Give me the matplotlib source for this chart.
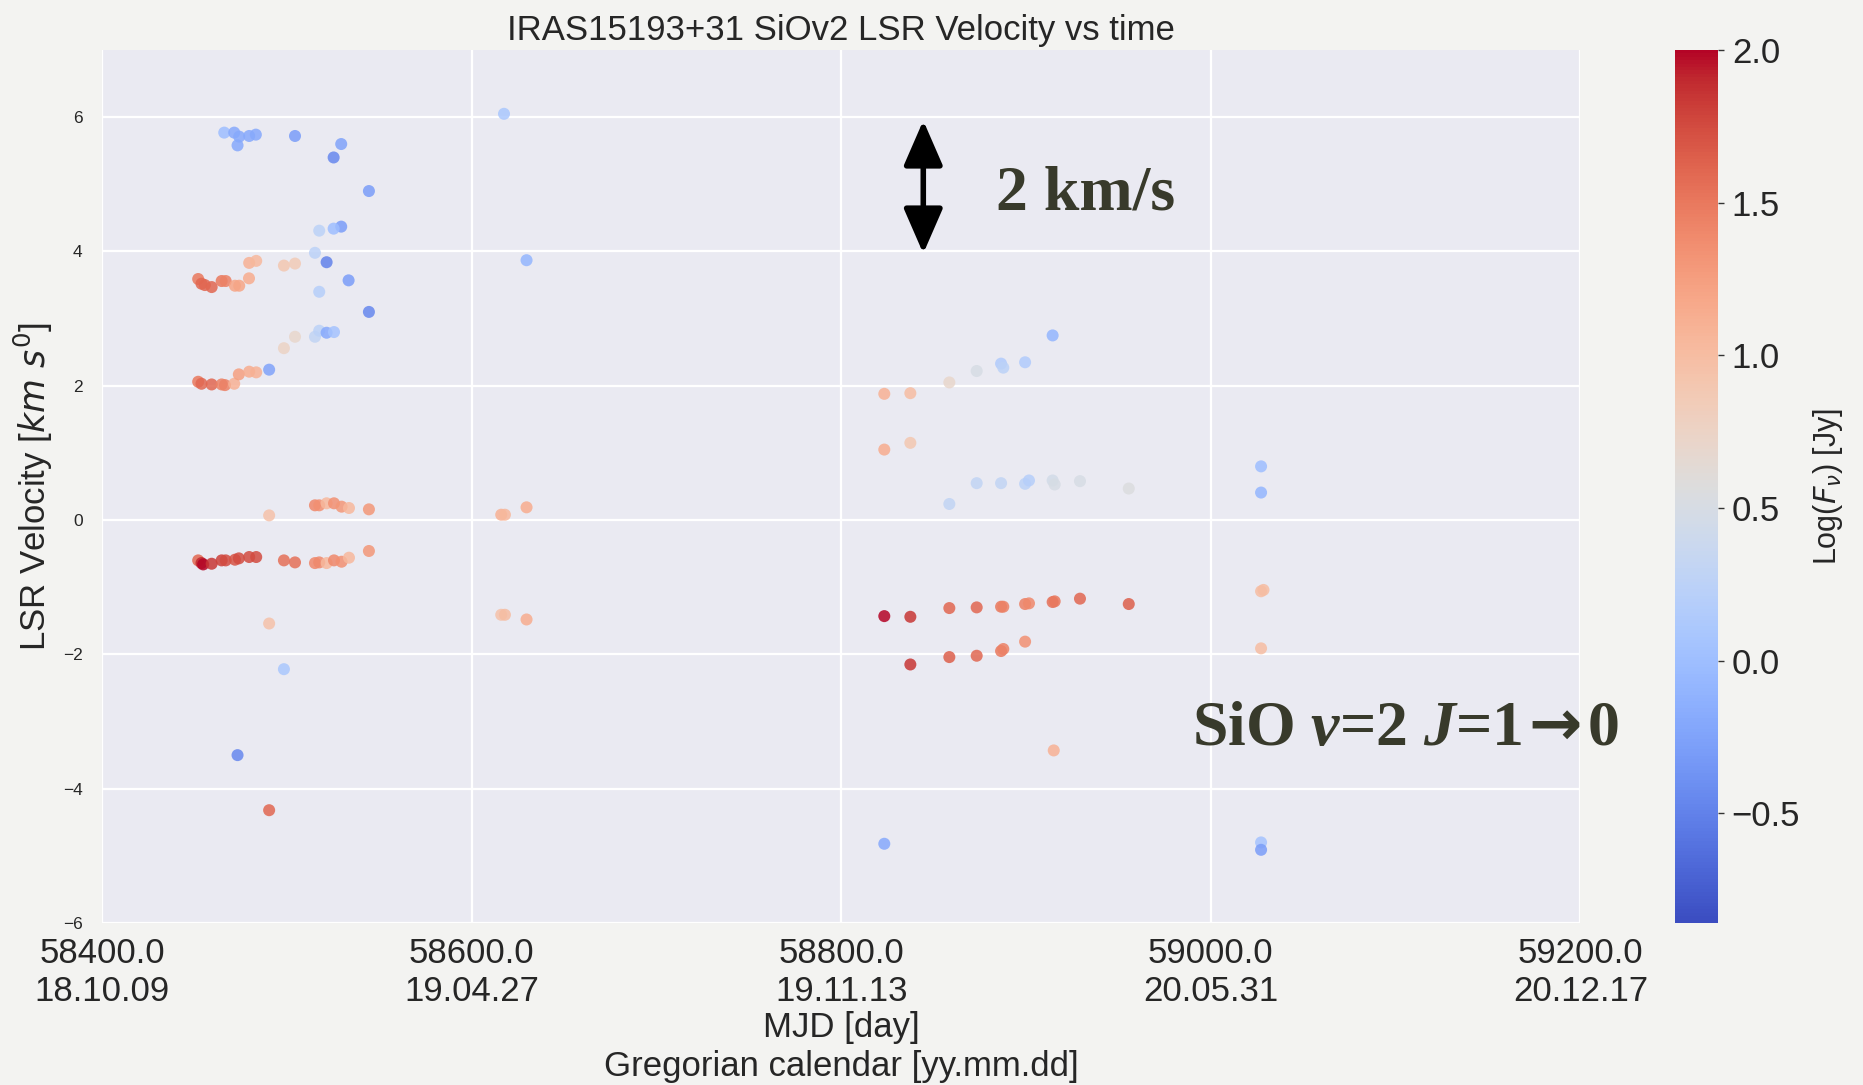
import matplotlib
matplotlib.use("Agg")
import matplotlib.pyplot as plt

# SiO v=2 J=1-0 maser spots of IRAS15193+31
# MJD of each spot, its LSR velocity (km/s) and log10 of flux density (Jy)
mjd = [
    # 2018 autumn run, upper spots
    58466.1, 58471.5, 58474.2, 58473.3, 58479.6, 58483.2, 58504.4, 58529.4, 58525.3,
    58544.4, 58529.4, 58525.3, 58517.5,
    58515.2, 58521.5, 58533.4, 58517.5, 58544.4,
    58479.6, 58483.4, 58498.4, 58504.4,
    58452.0, 58453.8, 58455.6, 58459.3, 58464.7, 58466.9, 58471.9, 58474.2, 58479.5,
    # v ~ 2
    58515.2, 58517.5, 58521.5, 58525.5, 58504.4, 58498.4, 58490.4,
    58452.0, 58453.8, 58459.3, 58464.7, 58466.5, 58471.5, 58474.0, 58479.6, 58483.4,
    # v ~ 0
    58515.2, 58517.5, 58521.5, 58525.5, 58529.6, 58533.6, 58544.4, 58490.4,
    # v ~ -0.6
    58452.0, 58453.8, 58454.7, 58459.3, 58464.7, 58466.9, 58471.9, 58474.0, 58479.6, 58483.4,
    58498.4, 58504.4,
    58515.2, 58517.5, 58521.5, 58525.5, 58529.6, 58533.6, 58544.4,
    58490.4, 58498.4, 58473.3, 58490.4,
    # 2019 spring
    58617.5, 58629.7, 58616.0, 58618.0, 58629.7, 58616.0, 58618.0, 58629.7,
    # 2019-2020 winter
    58914.4, 58899.5, 58886.5, 58887.7, 58873.3, 58858.5, 58823.3, 58837.4,
    58823.3, 58837.4,
    58873.3, 58886.5, 58899.5, 58901.6, 58914.4, 58915.5, 58929.2, 58955.6, 58858.5,
    58823.3, 58837.4, 58858.5, 58873.3, 58886.5, 58887.7, 58899.5, 58901.6, 58914.4,
    58915.5, 58929.2, 58955.6,
    58837.4, 58858.5, 58873.3, 58886.5, 58887.7, 58899.5,
    58915.0, 58823.3,
    # 2020 summer
    59027.2, 59027.2, 59027.2, 59028.5, 59027.2, 59027.2, 59027.2,
]

vlsr = [
    5.77, 5.77, 5.71, 5.58, 5.72, 5.74, 5.72, 5.60, 5.40,
    4.90, 4.37, 4.34, 4.31,
    3.98, 3.84, 3.57, 3.40, 3.10,
    3.83, 3.86, 3.79, 3.82,
    3.59, 3.52, 3.50, 3.47, 3.56, 3.56, 3.49, 3.49, 3.60,
    2.73, 2.82, 2.79, 2.80, 2.73, 2.56, 2.24,
    2.06, 2.03, 2.02, 2.02, 2.01, 2.03, 2.17, 2.21, 2.20,
    0.22, 0.22, 0.25, 0.25, 0.20, 0.18, 0.16, 0.07,
    -0.60, -0.64, -0.66, -0.65, -0.60, -0.60, -0.59, -0.57, -0.55, -0.55,
    -0.60, -0.63,
    -0.64, -0.63, -0.64, -0.60, -0.62, -0.56, -0.46,
    -1.54, -2.22, -3.50, -4.32,
    6.05, 3.87, 0.08, 0.08, 0.19, -1.41, -1.41, -1.48,
    2.75, 2.35, 2.33, 2.27, 2.22, 2.05, 1.88, 1.89,
    1.05, 1.15,
    0.55, 0.55, 0.54, 0.59, 0.59, 0.53, 0.58, 0.47, 0.24,
    -1.43, -1.44, -1.31, -1.30, -1.29, -1.29, -1.25, -1.24, -1.22,
    -1.21, -1.17, -1.25,
    -2.15, -2.04, -2.02, -1.95, -1.92, -1.81,
    -3.43, -4.82,
    0.80, 0.41, -1.06, -1.04, -1.91, -4.80, -4.91,
]

logflux = [
    0.0, -0.2, -0.2, -0.2, -0.2, -0.2, -0.3, -0.25, -0.45,
    -0.3, -0.3, 0.0, 0.25,
    0.25, -0.5, -0.3, 0.2, -0.45,
    1.1, 1.05, 0.9, 0.85,
    1.5, 1.6, 1.6, 1.6, 1.5, 1.45, 1.2, 1.2, 1.15,
    0.3, 0.25, -0.2, 0.05, 0.7, 0.75, -0.25,
    1.5, 1.6, 1.6, 1.45, 1.45, 1.1, 1.25, 1.15, 1.1,
    1.4, 1.35, 1.05, 1.35, 1.3, 1.05, 1.3, 0.95,
    1.6, 1.9, 2.0, 1.85, 1.8, 1.75, 1.7, 1.75, 1.75, 1.75,
    1.55, 1.55,
    1.4, 1.4, 1.05, 1.4, 1.35, 1.05, 1.3,
    0.95, 0.1, -0.45, 1.6,
    0.1, -0.1, 1.1, 1.05, 1.15, 0.95, 1.0, 1.15,
    -0.1, 0.15, 0.15, 0.25, 0.5, 0.7, 1.1, 1.0,
    1.15, 0.9,
    0.3, 0.3, 0.25, 0.2, 0.45, 0.5, 0.5, 0.55, 0.3,
    2.0, 1.85, 1.6, 1.6, 1.5, 1.45, 1.45, 1.4, 1.55,
    1.5, 1.6, 1.65,
    1.85, 1.65, 1.6, 1.5, 1.45, 1.35,
    1.1, -0.2,
    0.0, -0.1, 1.0, 1.0, 1.0, 0.05, -0.3,
]

xticks = [58400, 58600, 58800, 59000, 59200]
xticklabels = ["58400.0\n18.10.09", "58600.0\n19.04.27", "58800.0\n19.11.13",
               "59000.0\n20.05.31", "59200.0\n20.12.17"]
yticks = [-6, -4, -2, 0, 2, 4, 6]

plt.style.use("seaborn-v0_8-darkgrid")
plt.rcParams["font.family"] = ["Liberation Sans", "DejaVu Sans"]
plt.rcParams["mathtext.rm"] = "Liberation Serif:bold"
plt.rcParams["mathtext.it"] = "Liberation Serif:italic:bold"
plt.rcParams["mathtext.bf"] = "DejaVu Sans:bold"

fig = plt.figure(figsize=(18.63, 10.85), dpi=100)
fig.patch.set_facecolor("#f3f3f1")
ax = fig.add_axes([0.0548, 0.1493, 0.7935, 0.8046])
cax = fig.add_axes([0.899, 0.1493, 0.0231, 0.8046])

sc = ax.scatter(mjd, vlsr, c=logflux, cmap="coolwarm", vmin=-0.86, vmax=2.0,
                s=75, alpha=0.85, edgecolors="none", zorder=3)

ax.set_xlim(58400, 59200)
ax.set_ylim(-6, 7)
ax.set_xticks(xticks)
ax.set_xticklabels(xticklabels, fontsize=25)
ax.set_yticks(yticks)
ax.tick_params(axis="y", labelsize=12.5, pad=14)
ax.tick_params(axis="x", pad=10)
ax.grid(color="white", linewidth=1.6)

ax.set_title("IRAS15193+31 SiOv2 LSR Velocity vs time", fontsize=25, pad=7)
ax.set_xlabel("MJD [day]\nGregorian calendar [yy.mm.dd]", fontsize=25, labelpad=2,
              linespacing=1.25)
ax.set_ylabel(r"LSR Velocity [$km\ s^0$]", fontsize=25, labelpad=6)

# 2 km/s scale bar
ax.annotate("", xy=(58844.4, 5.95), xytext=(58844.4, 3.97),
            arrowprops=dict(arrowstyle="<|-|>,head_length=1.15,head_width=0.5",
                            color="black", lw=4, shrinkA=0, shrinkB=0,
                            mutation_scale=24), zorder=5)
ax.text(58884, 4.63, "2 km/s", fontsize=46, fontweight="bold",
        family=["Liberation Serif", "DejaVu Serif"], color="#383a2b", va="baseline")
ax.text(58990, -3.35,
        r"SiO $v$=2 $J$=1$\hspace{-0.1}\mathbf{\rightarrow}\hspace{-0.1}$0",
        fontsize=46, fontweight="bold", family=["Liberation Serif", "DejaVu Serif"],
        math_fontfamily="custom", color="#383a2b", va="baseline", clip_on=False, zorder=6)

cb = fig.colorbar(sc, cax=cax)
cb.solids.set_alpha(1)
cb.outline.set_visible(False)
cb.set_ticks([-0.5, 0.0, 0.5, 1.0, 1.5, 2.0])
cb.ax.tick_params(labelsize=25, length=4, width=1, color="#333333", pad=6, right=True)
cb.set_label(r"Log($F_\nu$) [Jy]", fontsize=22, labelpad=8)

fig.savefig("out.png", dpi=100, facecolor=fig.get_facecolor())
